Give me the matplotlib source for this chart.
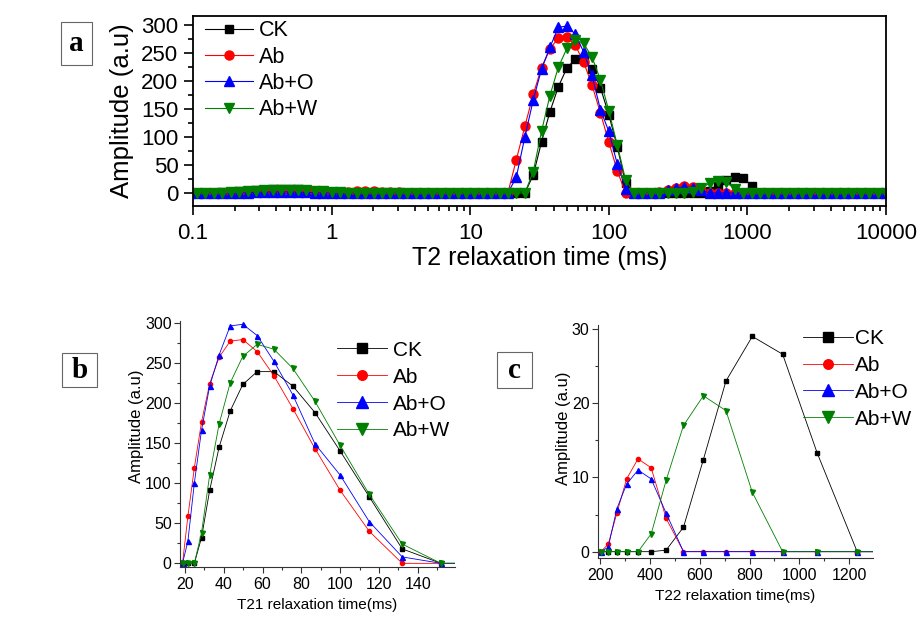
import matplotlib
matplotlib.use('Agg')
import matplotlib.pyplot as plt
from matplotlib.ticker import MultipleLocator, LogLocator, FuncFormatter, NullFormatter
from matplotlib.patches import Rectangle

plt.rcParams['font.family'] = ['Liberation Sans', 'DejaVu Sans']
NARROW = ['Liberation Sans Narrow', 'Liberation Sans', 'DejaVu Sans']

# T2 inversion grid (ms)
t2_ms = [0.0933, 0.107, 0.123, 0.142, 0.163, 0.187, 0.215, 0.248, 0.285, 0.327,
         0.376, 0.433, 0.498, 0.572, 0.658, 0.756, 0.870,
         1.00, 1.15, 1.32, 1.52, 1.75, 2.01, 2.31, 2.66, 3.05, 3.51,
         4.04, 4.64, 5.34, 6.14, 7.05, 8.11, 9.33,
         10.7, 12.3, 14.2, 16.3, 18.7, 21.5, 24.8, 28.5, 32.7, 37.6,
         43.3, 49.8, 57.2, 65.8, 75.6, 87.0, 100,
         115, 132, 152, 175, 201, 231, 266, 305, 351, 404,
         464, 534, 614, 705, 811, 933, 1072,
         1233, 1417, 1630, 1874, 2154, 2477, 2848, 3275, 3765, 4329,
         4977, 5722, 6579, 7565, 8697, 10000]

# amplitudes (a.u) for each treatment on the grid above
ck = [0, 0, 0, 0.5, 1, 2, 3, 4, 5, 6, 6.5, 7, 7, 6.5, 5.5, 4, 3,
      2, 1, 0.5, 0, 0, 0, 0, 0, 0, 0, 0, 0, 0, 0, 0, 0, 0,
      0, 0, 0, 0, 0, 0, 0, 32, 91, 145, 190, 223, 239, 239, 221, 188, 140,
      83, 18, 0, 0, 0, 0, 0, 0, 0, 0, 0.2, 3.3, 12.4, 23, 29, 26.6, 13.3,
      0, 0, 0, 0, 0, 0, 0, 0, 0, 0, 0, 0, 0, 0, 0, 0]
ab = [0, 0, 0, 0, 0.5, 1, 2, 3, 4, 5, 5.5, 6, 6, 5, 4, 3, 2,
      1.5, 2, 2.5, 3, 3, 3, 2.5, 2, 1, 0.5, 0, 0, 0, 0, 0, 0, 0,
      0, 0, 0, 0, 0, 59, 119, 176, 224, 257, 277, 279, 264, 234, 193, 143, 91,
      40, 0, 0, 0, 0, 1.0, 5.2, 9.8, 12.5, 11.3, 4.5, 0, 0, 0, 0, 0, 0,
      0, 0, 0, 0, 0, 0, 0, 0, 0, 0, 0, 0, 0, 0, 0, 0]
ab_o = [0, 0, 0, 0, 0, 0, 0, 0.5, 1, 1.5, 2, 2, 2, 1.5, 1, 0.5, 0,
        0, 0, 0, 0, 0, 0, 0, 0, 0, 0, 0, 0, 0, 0, 0, 0, 0,
        0, 0, 0, 0, 0, 28, 100, 166, 221, 260, 296, 298, 284, 252, 210, 149, 110,
        52, 8, 0, 0, 0, 0.6, 5.8, 9.1, 11.0, 9.8, 5.2, 0, 0, 0, 0, 0, 0,
        0, 0, 0, 0, 0, 0, 0, 0, 0, 0, 0, 0, 0, 0, 0, 0]
ab_w = [0, 0, 0, 0, 0.5, 1, 2, 3, 4, 5, 5.5, 6, 6, 5.5, 5, 4, 3,
        2, 1, 0.5, 0, 0, 0, 0, 0, 0, 0, 0, 0, 0, 0, 0, 0, 0,
        0, 0, 0, 0, 0, 0, 0, 38, 110, 174, 225, 258, 273, 267, 243, 202, 147,
        86, 24, 0, 0, 0, 0, 0, 0, 0, 2.4, 9.6, 17.0, 21.0, 19.0, 8.0, 0, 0,
        0, 0, 0, 0, 0, 0, 0, 0, 0, 0, 0, 0, 0, 0, 0, 0]

names = ['CK', 'Ab', 'Ab+O', 'Ab+W']
series = [ck, ab, ab_o, ab_w]
colors = ['black', 'red', 'blue', '#008000']
markers = ['s', 'o', '^', 'v']

fig = plt.figure(figsize=(9.23, 6.28), dpi=100)


def panel_box(letter, x0, y0, w, h):
    # boxed panel letter, coordinates in pixels from the top-left corner
    W, H = 923.0, 628.0
    fig.add_artist(Rectangle((x0 / W, 1 - (y0 + h) / H), w / W, h / H,
                             transform=fig.transFigure, fill=False,
                             ec='#666666', lw=0.8))
    fig.text((x0 + w / 2) / W, 1 - (y0 + h / 2) / H, letter, ha='center',
             va='center', fontsize=21, fontweight='bold',
             family=['Liberation Serif', 'DejaVu Serif'])


# ---- panel a: full distribution ----
ax_a = fig.add_axes([0.2091, 0.6720, 0.7508, 0.3025])
a_ms = [6, 6.5, 7.5, 7.5]
for name, vals, c, m, ms in zip(names, series, colors, markers, a_ms):
    ax_a.plot(t2_ms, vals, color=c, marker=m, ms=ms, mec=c, lw=0.8, label=name)
ax_a.set_xscale('log')
ax_a.set_xlim(0.1, 10000)
ax_a.set_ylim(-23.2, 316)
ax_a.xaxis.set_major_locator(LogLocator(base=10, numticks=10))
ax_a.xaxis.set_minor_locator(LogLocator(base=10, subs=range(2, 10), numticks=20))
ax_a.xaxis.set_major_formatter(FuncFormatter(lambda v, p: f'{v:g}'))
ax_a.xaxis.set_minor_formatter(NullFormatter())
ax_a.yaxis.set_major_locator(MultipleLocator(50))
ax_a.yaxis.set_minor_locator(MultipleLocator(25))
for s in ax_a.spines.values():
    s.set_linewidth(1.3)
ax_a.tick_params(which='both', direction='out', top=False, right=False, width=1.2)
ax_a.tick_params(which='major', length=6.5, labelsize=16)
ax_a.tick_params(which='minor', length=3.5)
ax_a.tick_params(axis='x', which='major', pad=6)
ax_a.tick_params(axis='y', which='major', pad=4)
ax_a.set_xlabel('T2 relaxation time (ms)', fontsize=18, labelpad=1)
ax_a.set_ylabel('Amplitude (a.u)', fontsize=18.5, labelpad=5)
ax_a.legend(loc='upper left', bbox_to_anchor=(0.0173, 0.978), frameon=False,
            fontsize=15.5, handlelength=2.23, handletextpad=0.28,
            labelspacing=0.25, borderpad=0, borderaxespad=0)
panel_box('a', 61, 22, 31, 43)


def small_panel(rect, xlim, ylim, xmaj, xmin, ymaj, ymin, xlabel, ycoords,
                legend_anchor, textpad):
    ax = fig.add_axes(rect)
    for name, vals, c, m in zip(names, series, colors, markers):
        ms = 3.6 if m in '^v' else 3
        ax.plot(t2_ms, vals, color=c, marker=m, ms=ms, mec=c, lw=0.6, label=name)
    ax.set_xlim(*xlim)
    ax.set_ylim(*ylim)
    ax.xaxis.set_major_locator(MultipleLocator(xmaj))
    ax.xaxis.set_minor_locator(MultipleLocator(xmin))
    ax.yaxis.set_major_locator(MultipleLocator(ymaj))
    ax.yaxis.set_minor_locator(MultipleLocator(ymin))
    ax.spines['top'].set_visible(False)
    ax.spines['right'].set_visible(False)
    for side in ['left', 'bottom']:
        ax.spines[side].set_linewidth(0.8)
        ax.spines[side].set_color('#333333')
    ax.tick_params(which='both', direction='out', width=0.8, color='#333333')
    ax.tick_params(which='major', length=4, labelsize=11.5, pad=2)
    ax.tick_params(which='minor', length=2)
    ax.tick_params(axis='x', which='major', pad=3.5)
    for t in ax.get_xticklabels() + ax.get_yticklabels():
        t.set_fontfamily(NARROW)
    ax.set_xlabel(xlabel, fontsize=11, labelpad=4)
    ax.set_ylabel('Amplitude (a.u)', fontsize=12)
    ax.yaxis.set_label_coords(*ycoords)
    ax.legend(loc='upper left', bbox_to_anchor=legend_anchor, frameon=False,
              fontsize=15, handlelength=2.4, handletextpad=textpad,
              labelspacing=0.38, markerscale=2.3, borderpad=0, borderaxespad=0)
    return ax


# ---- panel b: T21 peak ----
ax_b = small_panel([0.1950, 0.0971, 0.2979, 0.3925], (17.4, 159.2), (-4.6, 302.7),
                   20, 10, 50, 25, 'T21 relaxation time(ms)', (-0.131, 0.572),
                   (0.571, 0.918), 0.3)
panel_box('b', 62, 353, 35, 34)

# ---- panel c: T22 peak ----
ax_c = small_panel([0.6479, 0.1115, 0.2979, 0.3710], (190, 1296.6), (-0.85, 30.54),
                   200, 100, 10, 5, 'T22 relaxation time(ms)', (-0.098, 0.558),
                   (0.745, 0.983), 0.12)
panel_box('c', 497, 352, 35, 36)

fig.savefig('out.png', dpi=100)
